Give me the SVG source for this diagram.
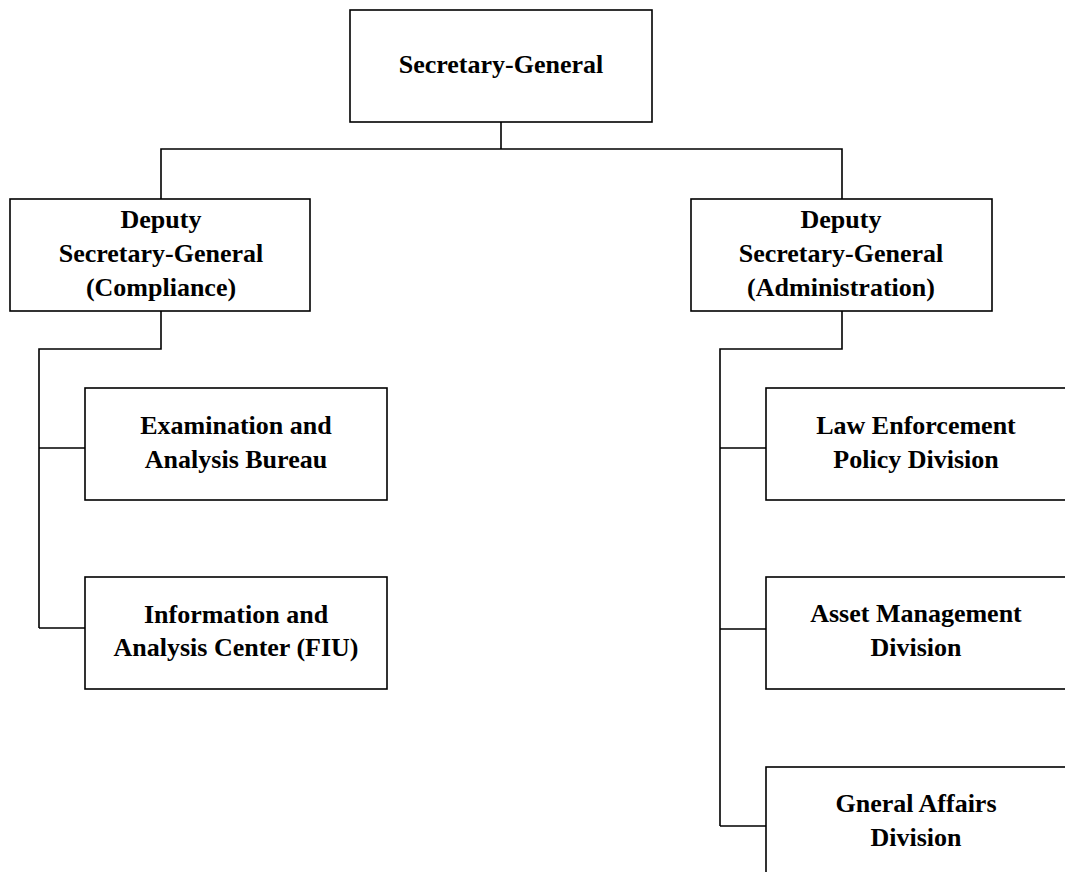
<svg xmlns="http://www.w3.org/2000/svg" width="1065" height="872" viewBox="0 0 1065 872">
<style>
.box{fill:#fff;stroke:#000;stroke-width:1.6}
.ln{fill:none;stroke:#000;stroke-width:1.6}
text{font-family:"Liberation Serif","Times New Roman",serif;font-weight:bold;font-size:26px;fill:#000;text-anchor:middle}
</style>
<rect width="1065" height="872" fill="#fff"/>
<g id="connectors">
<path class="ln" d="M501,122 V149 M161,199 V149 H842 V199"/>
<path class="ln" d="M161,311 V349 H39 V628 M39,448 H85 M39,628 H85"/>
<path class="ln" d="M842,311 V349 H720 V826 M720,448 H766 M720,629 H766 M720,826 H766"/>
</g>
<g id="sg">
<rect class="box" x="350" y="10" width="302" height="112"/>
<text x="501" y="73">Secretary-General</text>
</g>
<g id="dsg-compliance">
<rect class="box" x="10" y="199" width="300" height="112"/>
<text x="161" y="228">Deputy</text>
<text x="161" y="262">Secretary-General</text>
<text x="161" y="296">(Compliance)</text>
</g>
<g id="dsg-admin">
<rect class="box" x="691" y="199" width="301" height="112"/>
<text x="841" y="228">Deputy</text>
<text x="841" y="262">Secretary-General</text>
<text x="841" y="296">(Administration)</text>
</g>
<g id="exam">
<rect class="box" x="85" y="388" width="302" height="112"/>
<text x="236" y="434">Examination and</text>
<text x="236" y="468">Analysis Bureau</text>
</g>
<g id="fiu">
<rect class="box" x="85" y="577" width="302" height="112"/>
<text x="236" y="623">Information and</text>
<text x="236" y="656">Analysis Center (FIU)</text>
</g>
<g id="law">
<rect class="box" x="766" y="388" width="302" height="112"/>
<text x="916" y="434">Law Enforcement</text>
<text x="916" y="468">Policy Division</text>
</g>
<g id="asset">
<rect class="box" x="766" y="577" width="302" height="112"/>
<text x="916" y="622">Asset Management</text>
<text x="916" y="656">Division</text>
</g>
<g id="general">
<rect class="box" x="766" y="767" width="302" height="112"/>
<text x="916" y="812">Gneral Affairs</text>
<text x="916" y="846">Division</text>
</g>
</svg>
